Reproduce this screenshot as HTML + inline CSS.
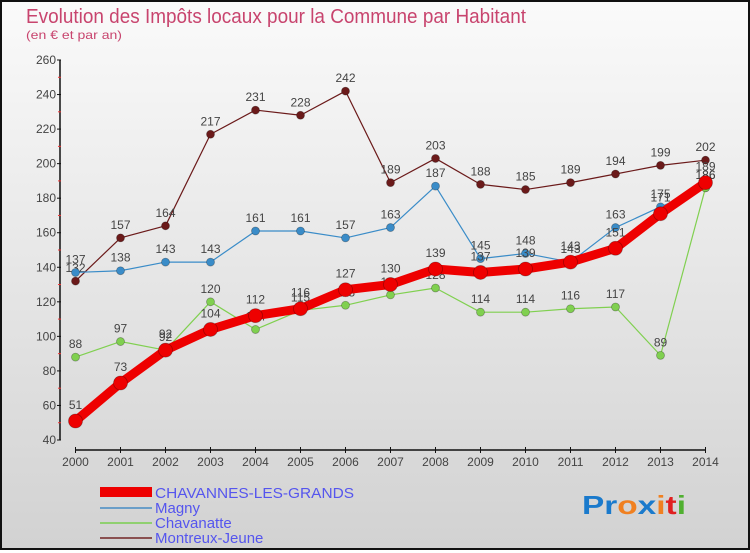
<!DOCTYPE html>
<html><head><meta charset="utf-8"><style>
html,body{margin:0;padding:0}
body{width:750px;height:550px;overflow:hidden;font-family:"Liberation Sans",sans-serif}
#wrap{position:relative;width:746px;height:546px;border:2px solid #111;background:linear-gradient(#fafafa,#d2d2d2)}
</style></head><body>
<div id="wrap">
<svg id="chart" width="746" height="546" viewBox="2 2 746 546" xmlns="http://www.w3.org/2000/svg">
<text x="26" y="23" font-size="20" fill="#c8446e" textLength="500" lengthAdjust="spacingAndGlyphs">Evolution des Impôts locaux pour la Commune par Habitant</text>
<text x="26" y="39" font-size="12" fill="#c8446e" textLength="96" lengthAdjust="spacingAndGlyphs">(en € et par an)</text>
<g id="axes"></g>
<g id="series"></g>
<g id="legend">
<rect x="100" y="487" width="52" height="10" fill="#e00"/>
<text x="155" y="498" font-size="15" fill="#5555ee" textLength="199" lengthAdjust="spacingAndGlyphs">CHAVANNES-LES-GRANDS</text>
<line x1="100" y1="508" x2="152" y2="508" stroke="#6a9ec8" stroke-width="2"/>
<text x="155" y="513" font-size="15" fill="#5555ee">Magny</text>
<line x1="100" y1="523" x2="152" y2="523" stroke="#90d070" stroke-width="2"/>
<text x="155" y="528" font-size="15" fill="#5555ee">Chavanatte</text>
<line x1="100" y1="538" x2="152" y2="538" stroke="#8a5050" stroke-width="2"/>
<text x="155" y="543" font-size="15" fill="#5555ee">Montreux-Jeune</text>
</g>
<text x="582" y="514" font-size="26" font-weight="bold" textLength="104" lengthAdjust="spacingAndGlyphs"><tspan fill="#1a7acc">Pr</tspan><tspan fill="#f08020">o</tspan><tspan fill="#1a7acc">x</tspan><tspan fill="#f08020">i</tspan><tspan fill="#e02020">t</tspan><tspan fill="#50b030">i</tspan></text>
</svg>
</div>
<script>
const years=[2000,2001,2002,2003,2004,2005,2006,2007,2008,2009,2010,2011,2012,2013,2014];
const yTicks=[40,60,80,100,120,140,160,180,200,220,240,260];
const chavannes=[51,73,92,104,112,116,127,130,139,137,139,143,151,171,189];
const magny=[137,138,143,143,161,161,157,163,187,145,148,143,163,175,186];
const chavanatte=[88,97,92,120,104,115,118,124,128,114,114,116,117,89,186];
const montreux=[132,157,164,217,231,228,242,189,203,188,185,189,194,199,202];
const NS="http://www.w3.org/2000/svg";
const X0=75.5,XS=45,Y0=440,YU=380/220;
function xs(i){return X0+i*XS;}
function ys(v){return Y0-(v-40)*YU;}
function mk(tag,attrs,parent){const e=document.createElementNS(NS,tag);for(const k in attrs)e.setAttribute(k,attrs[k]);parent.appendChild(e);return e;}
const ax=document.getElementById('axes');
const yAxis=mk('line',{x1:60,y1:ys(260),x2:60,y2:ys(40),stroke:'#111','stroke-width':1.5},ax);


yTicks.forEach((t,k)=>{
  mk('line',{x1:57,y1:ys(t),x2:61,y2:ys(t),stroke:'#111'},ax);
  if(k<yTicks.length-1)mk('line',{x1:58,y1:ys(t+10),x2:61,y2:ys(t+10),stroke:'#e33'},ax);
  const tx=mk('text',{x:56,y:ys(t)+4,'font-size':12,fill:'#444','text-anchor':'end'},ax);
  tx.textContent=t;
  
  
});
const xAxis=mk('line',{x1:xs(0),y1:450,x2:xs(14),y2:450,stroke:'#111','stroke-width':1.5},ax);


years.forEach((y,i)=>{
  mk('line',{x1:xs(i),y1:447,x2:xs(i),y2:453,stroke:'#111'},ax);
  const tx=mk('text',{x:xs(i),y:466,'font-size':12,fill:'#444','text-anchor':'middle'},ax);
  tx.textContent=y;
  
  
});
const sg=document.getElementById('series');
function drawSeries(vals,color,lw,r,name){
  const g=mk('g',{},sg);
  
  
  const pl=mk('polyline',{points:vals.map((v,i)=>xs(i)+','+ys(v)).join(' '),fill:'none',stroke:color,'stroke-width':lw,'stroke-linejoin':'round'},g);
  
  
  vals.forEach((v,i)=>{
    const c=mk('circle',{cx:xs(i),cy:ys(v),r:r,fill:color,stroke:'rgba(0,0,0,0.3)','stroke-width':0.8},g);
    
    
    const t=mk('text',{x:xs(i),y:ys(v)-(r+5),'font-size':12,fill:'#444','text-anchor':'middle'},g);
    t.textContent=v;
    
    
  });
}
drawSeries(montreux,'#6b1a1a',1.2,4,'montreux-jeune');
drawSeries(magny,'#3a8cc8',1.2,4,'magny');
drawSeries(chavanatte,'#80d050',1.2,4,'chavanatte');
drawSeries(chavannes,'#ee0000',9,7,'chavannes-les-grands');
</script>
</body></html>
